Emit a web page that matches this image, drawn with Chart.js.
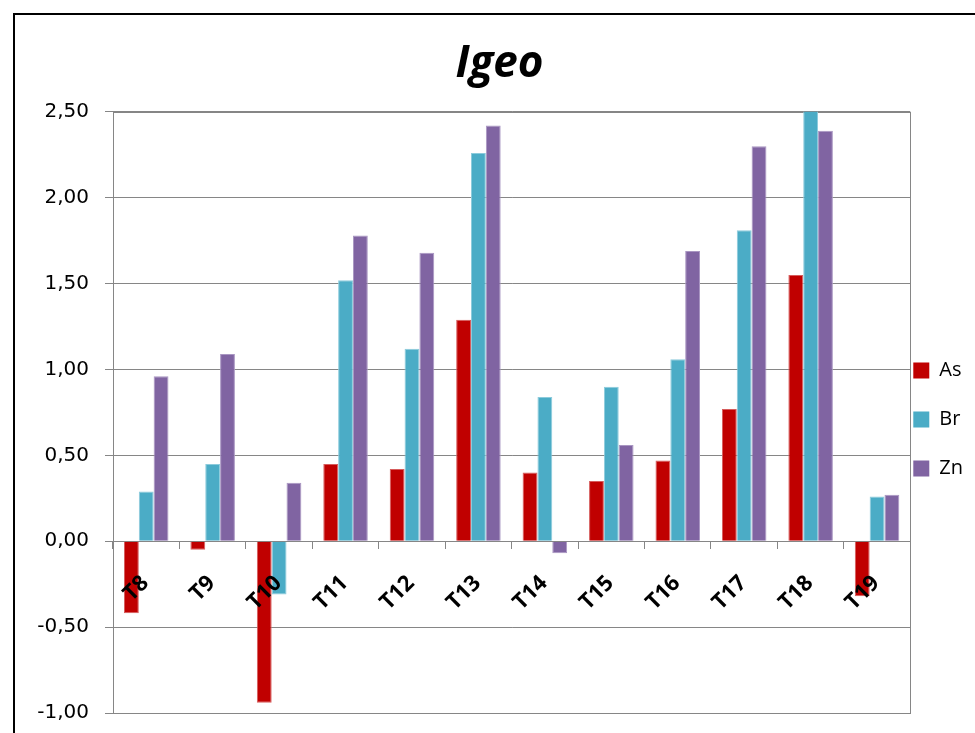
<!DOCTYPE html>
<html><head><meta charset="utf-8">
<script src="https://cdn.jsdelivr.net/npm/chart.js@4.4.1/dist/chart.umd.min.js"></script>
<style>
html,body{margin:0;padding:0;background:#fff;overflow:hidden;width:975px;height:733px;}
#frame{position:absolute;left:13px;top:13px;width:1000px;height:800px;border:2px solid #000;box-sizing:border-box;}
#wrap{position:absolute;left:0;top:0;width:975px;height:733px;}
</style></head>
<body>
<div id="frame"></div>
<div id="wrap"><canvas id="c" width="975" height="733"></canvas></div>
<script>
const categories = ["T8","T9","T10","T11","T12","T13","T14","T15","T16","T17","T18","T19"];
const asValues = [-0.42,-0.05,-0.94,0.45,0.42,1.29,0.40,0.35,0.47,0.77,1.55,-0.32];
const brValues = [0.29,0.45,-0.31,1.52,1.12,2.26,0.84,0.90,1.06,1.81,2.52,0.26];
const znValues = [0.96,1.09,0.34,1.78,1.68,2.42,-0.07,0.56,1.69,2.30,2.39,0.27];
const yTicks = [-1,-0.5,0,0.5,1,1.5,2,2.5];

const frameBox = {
  id:'frameBox',
  beforeDatasetsDraw(chart){
    const a = chart.chartArea, ctx = chart.ctx;
    ctx.save();
    ctx.strokeStyle = '#868686'; ctx.lineWidth = 1;
    ctx.strokeRect(Math.round(a.left)+0.5, Math.round(a.top)+0.5, Math.round(a.right-a.left), Math.round(a.bottom-a.top));
    ctx.restore();
  }
};

new Chart(document.getElementById('c'), {
  type:'bar',
  data:{
    labels: categories,
    datasets:[
      {label:'As', data: asValues, backgroundColor:'#C00000', borderColor:'#D65C5C', borderWidth:1},
      {label:'Br', data: brValues, backgroundColor:'#4BACC6', borderColor:'#8CCBDC', borderWidth:1},
      {label:'Zn', data: znValues, backgroundColor:'#8064A2', borderColor:'#A996C2', borderWidth:1}
    ]
  },
  options:{
    responsive:false, animation:false,
    layout:{padding:{top:0,left:26,right:2,bottom:20}},
    datasets:{bar:{categoryPercentage:0.67, barPercentage:1.0}},
    plugins:{
      title:{display:true, text:'Igeo', color:'#000',
        font:{family:'Open Sans', size:44, weight:'bold', style:'italic'},
        padding:{top:38,bottom:21}},
      legend:{position:'right', align:'center',
        title:{display:true, text:'', font:{size:10, lineHeight:1.2}, padding:{top:70,bottom:70}},
        labels:{color:'#000', boxWidth:16, boxHeight:16, padding:3,
          font:{family:'Open Sans', size:20, lineHeight:2.3},
          generateLabels(chart){
            const items = Chart.defaults.plugins.legend.labels.generateLabels(chart);
            return items.map(it => Object.assign(it, {text:[it.text], lineWidth:0}));
          }}},
      tooltip:{enabled:false}
    },
    scales:{
      y:{min:-1, max:2.5,
        afterBuildTicks(s){ s.ticks = yTicks.map(v=>({value:v})); },
        afterFit(s){ s.width = 87; s.paddingTop = 0; s.paddingBottom = 0; },
        ticks:{color:'#000', padding:16, font:{family:'DejaVu Sans', size:20},
          callback:v=>v.toFixed(2).replace('.',',')},
        grid:{color:'#868686', tickLength:8, drawTicks:true},
        border:{color:'#868686'}
      },
      x:{position:{y:0},
        ticks:{z:1, color:'#000', maxRotation:45, minRotation:45, padding:22, labelOffset:-1,
          font:{family:'Open Sans', size:22, weight:'bold'}},
        grid:{offset:true, drawOnChartArea:false, drawTicks:true, tickLength:7, color:'#868686'},
        border:{color:'#868686'}
      }
    }
  },
  plugins:[frameBox]
});
</script>
</body></html>
